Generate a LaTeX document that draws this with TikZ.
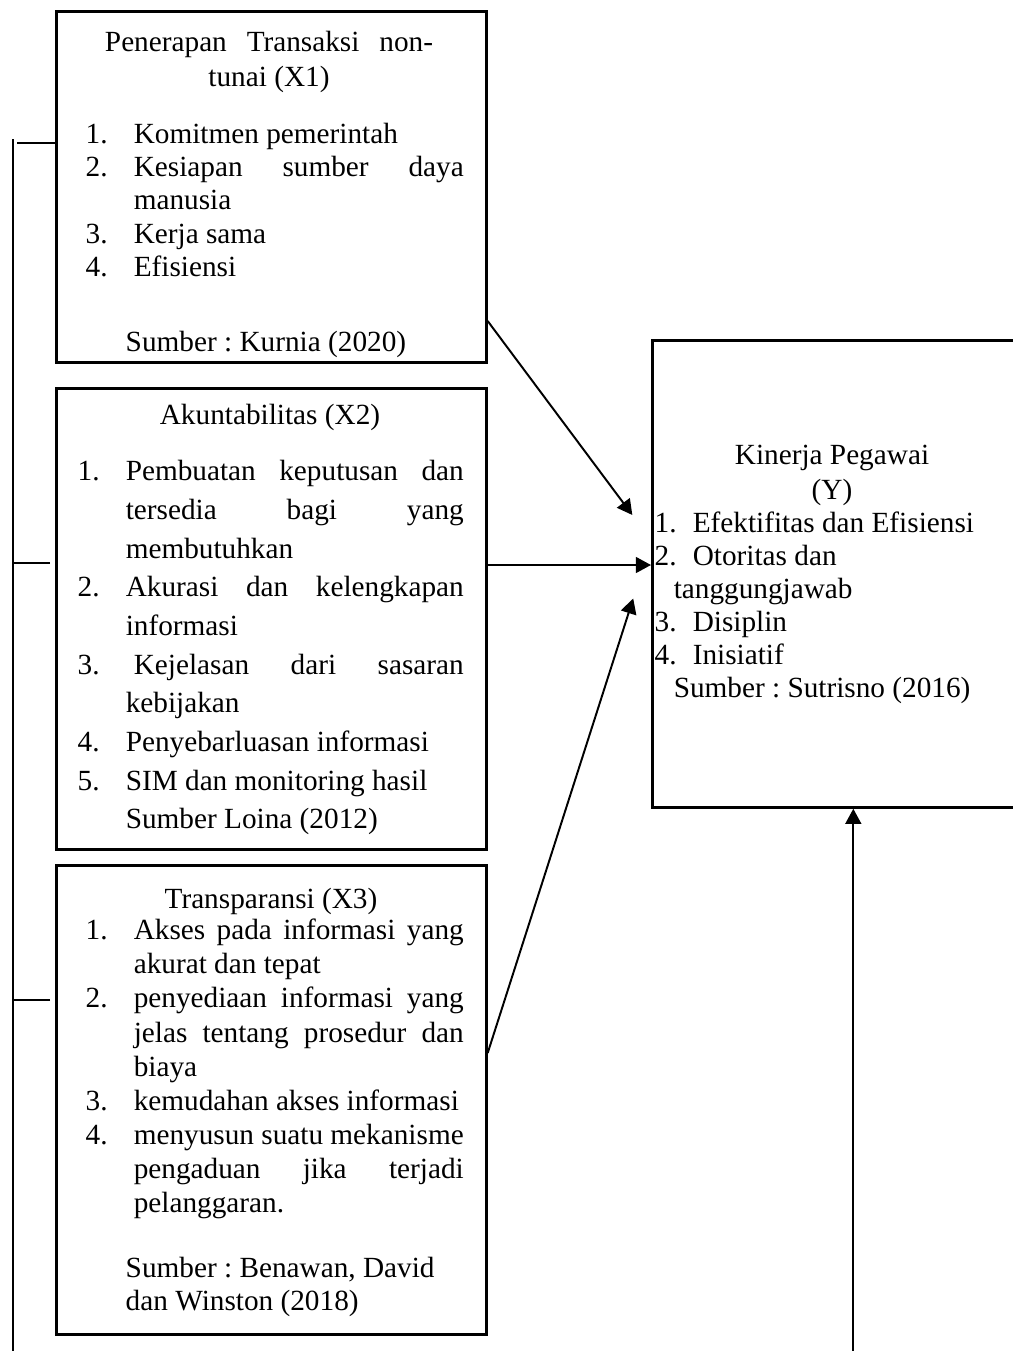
\documentclass[tikz,border=0pt]{standalone}
\usepackage{fontspec}
\setmainfont{Liberation Serif}
\usetikzlibrary{arrows.meta}
\frenchspacing

\newcommand{\nr}[2][19.7pt]{\makebox[#1][l]{#2}}
\newcommand{\jst}[2][135.3pt]{\makebox[#1][s]{#2}}

\begin{document}
\begin{tikzpicture}[x=0.41pt,y=-0.41pt,>={Triangle[length=6.2pt,width=6.5pt]},semithick]
    \tikzstyle{box}=[draw,line width=1.1pt,inner sep=0pt,anchor=north west]
    \tikzstyle{txt}=[inner sep=0pt,anchor=north west,align=left,font=\fontsize{12}{13.7}\selectfont]
    \tikzstyle{ttl}=[inner sep=0pt,anchor=north,align=center,font=\fontsize{12}{14.3}\selectfont]
    \tikzstyle{link}=[->,line width=0.8pt]
    \tikzstyle{bus}=[line width=0.6pt]
    \useasboundingbox (0,0) rectangle (1013,1351);
    \clip (0,0) rectangle (1013,1351);
    % boxes
    \node[box,minimum width=176.3pt,minimum height=143.9pt] (x1) at (55,10) {};
    \node[box,minimum width=176.3pt,minimum height=189pt] (x2) at (55,387) {};
    \node[box,minimum width=176.3pt,minimum height=192.3pt] (x3) at (55,864) {};
    \node[box,minimum width=164.8pt,minimum height=191.5pt] (y) at (651,339) {};
    % X1
    \node[ttl] (x1t) at (269,26) {\strut\jst[134.5pt]{Penerapan Transaksi non-}\\tunai (X1)};
    \node[txt] (x1l) at (85,119) {\strut\nr{1.}Komitmen pemerintah\\
        \nr{2.}\jst{Kesiapan sumber daya}\\
        \nr{}manusia\\
        \nr{3.}Kerja sama\\
        \nr{4.}Efisiensi};
    \node[txt] (x1s) at (125,327) {\strut Sumber : Kurnia (2020)};
    % X2
    \node[ttl] (x2t) at (270,399) {\strut Akuntabilitas (X2)};
    \node[txt,font=\fontsize{12}{15.85}\selectfont] (x2l) at (77,453) {\strut\nr{1.}\jst[138.6pt]{Pembuatan keputusan dan}\\
        \nr{}\jst[138.6pt]{tersedia bagi yang}\\
        \nr{}membutuhkan\\
        \nr{2.}\jst[138.6pt]{Akurasi dan kelengkapan}\\
        \nr{}informasi\\
        \nr{3.}\hspace*{3.3pt}\jst{Kejelasan dari sasaran}\\
        \nr{}kebijakan\\
        \nr{4.}Penyebarluasan informasi\\
        \nr{5.}SIM dan monitoring hasil\\
        \nr{}Sumber Loina (2012)};
    % X3
    \node[ttl] (x3t) at (271,883) {\strut Transparansi (X3)};
    \node[txt,font=\fontsize{12}{14}\selectfont] (x3l) at (85,915) {\strut\nr{1.}\jst{Akses pada informasi yang}\\
        \nr{}akurat dan tepat\\
        \nr{2.}\jst{penyediaan informasi yang}\\
        \nr{}\jst{jelas tentang prosedur dan}\\
        \nr{}biaya\\
        \nr{3.}kemudahan akses informasi\\
        \nr{4.}\jst{menyusun suatu mekanisme}\\
        \nr{}\jst{pengaduan jika terjadi}\\
        \nr{}pelanggaran.};
    \node[txt] (x3s) at (125,1253) {\strut Sumber : Benawan, David\\dan Winston (2018)};
    % Y
    \node[ttl] (yt) at (832,439) {\strut Kinerja Pegawai\\(Y)};
    \node[txt,font=\fontsize{12}{13.5}\selectfont] (yl) at (654,509) {\strut\nr[15.6pt]{1.}Efektifitas dan Efisiensi\\
        \nr[15.6pt]{2.}Otoritas dan\\
        \hspace*{7.8pt}tanggungjawab\\
        \nr[15.6pt]{3.}Disiplin\\
        \nr[15.6pt]{4.}Inisiatif\\
        \hspace*{7.8pt}Sumber : Sutrisno (2016)};
    % left bracket
    \coordinate (bus top) at (13,139);
    \coordinate (bus end) at (13,1351);
    \draw[bus] (bus top) -- (bus end);
    \draw[bus,shorten >=1.6pt] (x1.west |- 0,143) -- (bus top |- 0,143);
    \draw[bus,shorten <=2pt] (x2.west |- 0,563) -- (bus top |- 0,563);
    \draw[bus,shorten <=2pt] (x3.west |- 0,1000) -- (bus top |- 0,1000);
    % arrows to Y
    \draw[link,shorten >=12.8pt] (x1.east |- 0,321) -- (y.west |- 0,540);
    \draw[link] (x2.east |- 0,565) -- (y.west |- 0,565);
    \draw[link,shorten >=23.9pt] (x3.east |- 0,1053) -- (y.west |- 0,543);
    \coordinate (y bot) at (y.south |- 0,1351);
    \draw[link] (y bot) -- (y.south);
\end{tikzpicture}
\end{document}
